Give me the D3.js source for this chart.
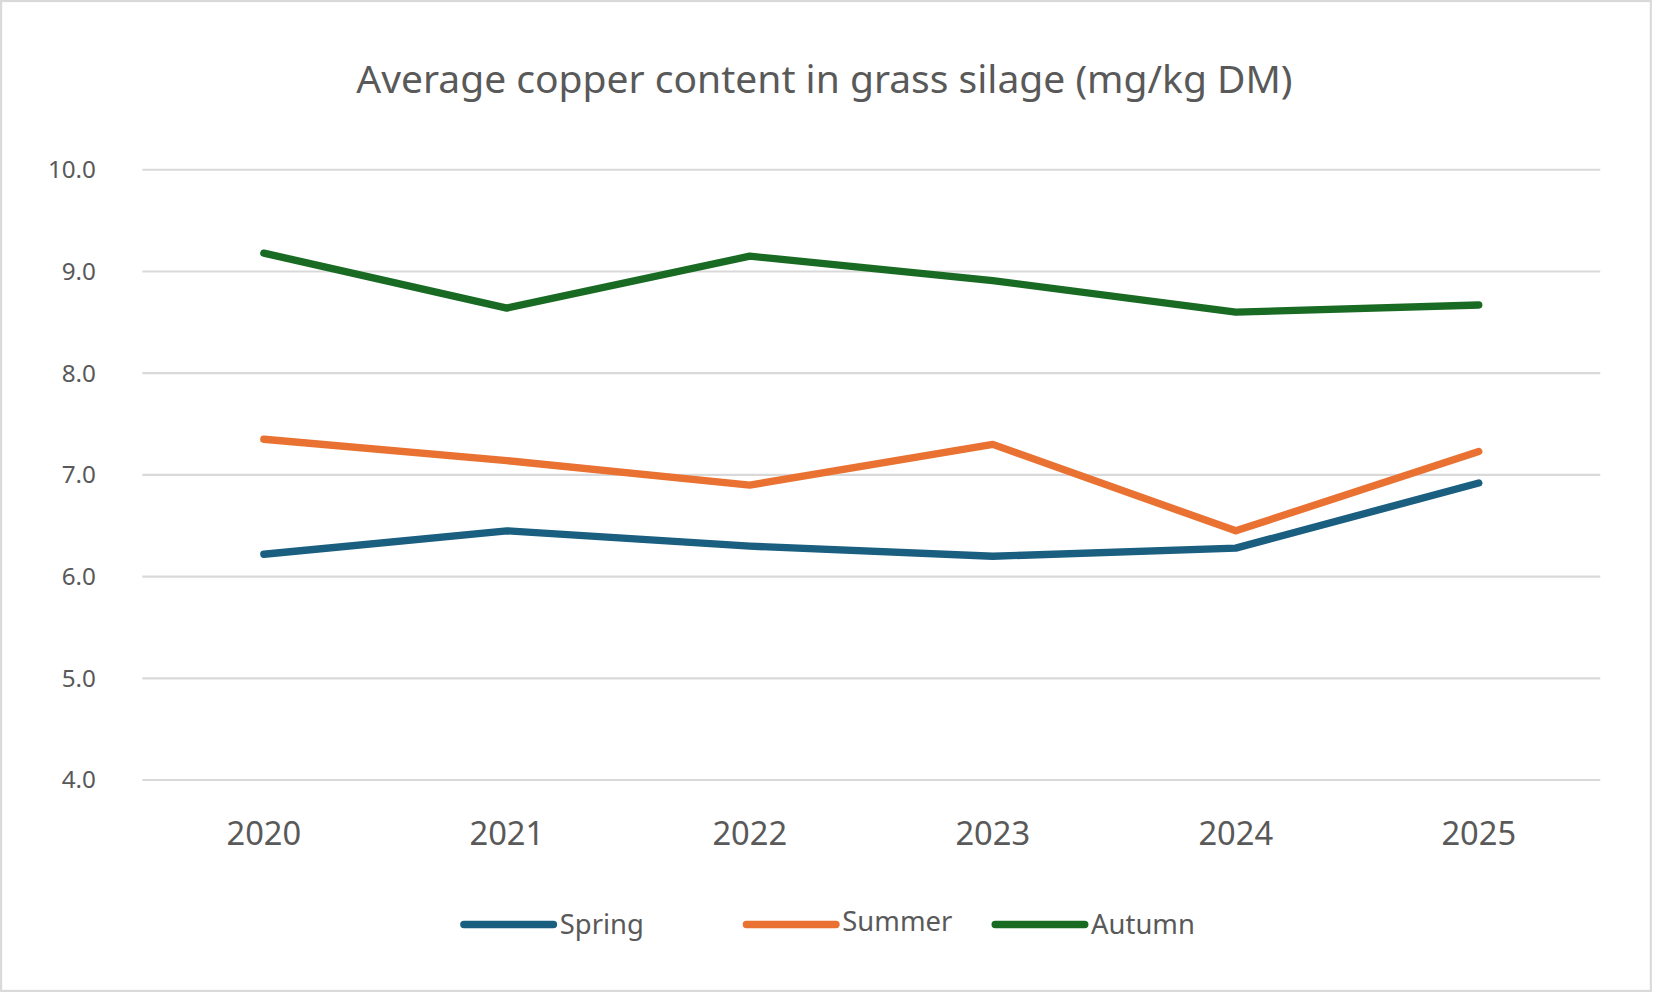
<!DOCTYPE html>
<html><head><meta charset="utf-8">
<script src="https://cdn.jsdelivr.net/npm/d3@7"></script>
<style>body{margin:0;background:#fff}svg{display:block}</style>
</head><body>
<script>
var years = ["2020", "2021", "2022", "2023", "2024", "2025"];
var spring = [6.22, 6.45, 6.30, 6.20, 6.28, 6.92];
var summer = [7.35, 7.14, 6.90, 7.30, 6.45, 7.23];
var autumn = [9.18, 8.64, 9.15, 8.91, 8.60, 8.67];
var yTicks = [4, 5, 6, 7, 8, 9, 10];
var seriesNames = ["Spring", "Summer", "Autumn"];
var colors = ["#1a5e80", "#e97132", "#196b24"];

var svg = d3.select("body").append("svg")
  .attr("width", 1653).attr("height", 993)
  .attr("viewBox", "0 0 1568 942")
  .style("font-family", "Noto Sans, Open Sans, sans-serif");

svg.append("rect").attr("x", 1).attr("y", 1).attr("width", 1565).attr("height", 939)
  .attr("fill", "#fff").attr("stroke", "#d9d9d9").attr("stroke-width", 2);

svg.append("text").attr("x", 782).attr("y", 88).attr("text-anchor", "middle")
  .attr("font-size", 37).attr("fill", "#595959")
  .text("Average copper content in grass silage (mg/kg DM)");

var x = d3.scalePoint().domain(years).range([135, 1518]).padding(0.5);
var y = d3.scaleLinear().domain([4, 10]).range([740, 161]);

var grid = svg.append("g");
yTicks.forEach(function (t) {
  grid.append("line").attr("x1", 135).attr("x2", 1518)
    .attr("y1", y(t)).attr("y2", y(t)).attr("stroke", "#d9d9d9").attr("stroke-width", 2);
  grid.append("text").attr("x", 91).attr("y", y(t) + 8).attr("text-anchor", "end")
    .attr("font-size", 23).attr("fill", "#595959").text(d3.format(".1f")(t));
});
years.forEach(function (yr) {
  svg.append("text").attr("x", x(yr)).attr("y", 802).attr("text-anchor", "middle")
    .attr("font-size", 31).attr("fill", "#595959").text(yr);
});

var line = d3.line().x(function (d, i) { return x(years[i]); }).y(function (d) { return y(d); });
[spring, summer, autumn].forEach(function (s, i) {
  svg.append("path").attr("d", line(s)).attr("fill", "none")
    .attr("stroke", colors[i]).attr("stroke-width", 7).attr("stroke-linecap", "round")
    .attr("stroke-linejoin", "round");
});

var legX = [440, 708, 944];
var legY = [877, 877, 877];
seriesNames.forEach(function (n, i) {
  svg.append("line").attr("x1", legX[i]).attr("x2", legX[i] + 85)
    .attr("y1", legY[i]).attr("y2", legY[i]).attr("stroke", colors[i])
    .attr("stroke-width", 7).attr("stroke-linecap", "round");
  svg.append("text").attr("x", legX[i] + 91).attr("y", legY[i] + (i === 1 ? 6 : 9))
    .attr("font-size", 26).attr("fill", "#595959").text(n);
});
</script>
</body></html>
